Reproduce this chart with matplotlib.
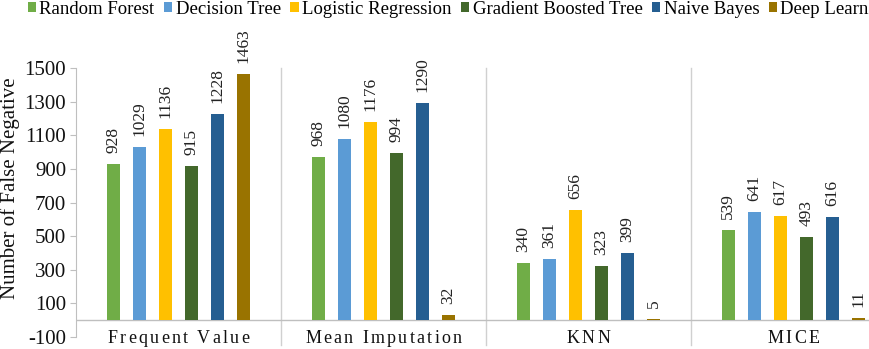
import matplotlib
matplotlib.use("Agg")
import matplotlib.pyplot as plt
from matplotlib.font_manager import FontProperties, findfont, get_font
import numpy as np

categories = ["Frequent Value", "Mean Imputation", "KNN", "MICE"]
models = ["Random Forest", "Decision Tree", "Logistic Regression",
          "Gradient Boosted Tree", "Naive Bayes", "Deep Learning"]
random_forest = [928, 968, 340, 539]
decision_tree = [1029, 1080, 361, 641]
logistic_regression = [1136, 1176, 656, 617]
gradient_boosted = [915, 994, 323, 493]
naive_bayes = [1228, 1290, 399, 616]
deep_learning = [1463, 32, 5, 11]
series = [random_forest, decision_tree, logistic_regression,
          gradient_boosted, naive_bayes, deep_learning]
colors = ["#70AD47", "#5B9BD5", "#FFC000", "#43682B", "#255E91", "#997300"]
yticks = list(range(-100, 1501, 200))

plt.rcParams['font.family'] = ['Liberation Serif', 'DejaVu Serif']
plt.rcParams['axes.unicode_minus'] = False

W, H = 869, 349
DPI = 100
fig = plt.figure(figsize=(W / DPI, H / DPI), dpi=DPI)
left_px, right_px, top_px, bot_px = 76, 896, 68, 337
ax = fig.add_axes([left_px / W, (H - bot_px) / H,
                   (right_px - left_px) / W, (bot_px - top_px) / H])

x = np.arange(len(categories))
step = 0.127
width = 0.066
n = len(series)
for i, (vals, c, name) in enumerate(zip(series, colors, models)):
    xs = x + (i - (n - 1) / 2) * step
    ax.bar(xs, vals, width=width, color=c, label=name, zorder=3)
    for xi, v in zip(xs, vals):
        ax.annotate(str(v), (xi, v), xytext=(0, 11), textcoords="offset pixels",
                    rotation=90, ha="center", va="bottom", fontsize=12.5,
                    color="#222222", annotation_clip=False)

ax.set_xlim(-0.5, len(categories) - 0.5)
ax.set_ylim(-100, 1500)
ax.set_yticks(yticks)
ax.tick_params(axis="y", labelsize=15, length=4, color="#BFBFBF", pad=3,
               labelcolor="#111111")
ax.set_xticks([])
for s in ["top", "right", "bottom"]:
    ax.spines[s].set_visible(False)
ax.spines["left"].set_color("#BFBFBF")
ax.axhline(0, color="#BFBFBF", lw=1, zorder=2)
for b in np.arange(0.5, len(categories) - 0.5, 1.0):
    ax.plot([b, b], [-0.03, 1.0], transform=ax.get_xaxis_transform(),
            color="#D0D0D0", lw=1, clip_on=False, zorder=1)

# letter-spaced category labels
cat_size = 13
tracking_px = 2.3
fp = FontProperties(family="Liberation Serif", size=cat_size)
ft = get_font(findfont(fp))
ft.set_size(cat_size, DPI)


def advance(ch):
    g = ft.load_char(ord(ch))
    return g.linearHoriAdvance / 65536.0


for xi, cat in zip(x, categories):
    advs = [advance(ch) for ch in cat]
    total = sum(advs) + tracking_px * (len(cat) - 1)
    pos = -total / 2
    for ch, a in zip(cat, advs):
        if ch != " ":
            ax.annotate(ch, (xi, -100), xytext=(pos, -6),
                        textcoords="offset pixels", ha="left", va="baseline",
                        fontproperties=fp, color="#111111",
                        annotation_clip=False)
        pos += a + tracking_px

ax.set_ylabel("Number of False Negative", fontsize=15, color="#111111")
ax.yaxis.set_label_coords(-0.068, 0.554)

fig.legend(loc="upper left", bbox_to_anchor=(20 / W, 1.02), ncol=6,
           frameon=False, fontsize=13.5, handlelength=0.45,
           handleheight=0.45, handletextpad=0.18, columnspacing=0.5,
           borderaxespad=0)

fig.savefig("out.png", dpi=DPI)
